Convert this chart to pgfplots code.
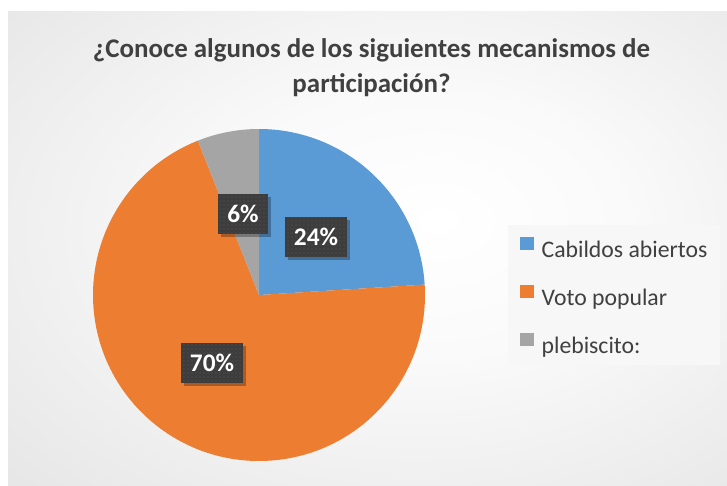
\documentclass[border=0pt]{standalone}
\usepackage{fontspec}
\setmainfont{Carlito}
\usepackage{pgfplots}
\pgfplotsset{compat=1.18}
\usepackage{pgfplotstable}
\usetikzlibrary{shadows,patterns}

\definecolor{pieblue}{HTML}{5B9BD5}
\definecolor{pieorange}{HTML}{ED7D31}
\definecolor{piegray}{HTML}{A5A5A5}
\definecolor{txtgray}{HTML}{404040}
\definecolor{labbg}{HTML}{3D3D3D}
\definecolor{labdot}{HTML}{5A5A5A}

\pgfdeclareradialshading{bgshade}{\pgfpoint{5bp}{3bp}}{%
  color(0bp)=(white); color(14bp)=(white!98!black); color(74bp)=(black!21)}

\pgfplotstableread[col sep=comma]{
label,value
Cabildos abiertos,24
Voto popular,70
plebiscito:,6
}\piedata

\pgfplotstablegetelem{0}{value}\of\piedata\edef\vA{\pgfplotsretval}
\pgfplotstablegetelem{1}{value}\of\piedata\edef\vB{\pgfplotsretval}
\pgfplotstablegetelem{2}{value}\of\piedata\edef\vC{\pgfplotsretval}
\pgfmathsetmacro\aA{90}
\pgfmathsetmacro\aB{\aA-3.6*\vA}
\pgfmathsetmacro\aC{\aB-3.6*\vB}
\pgfmathsetmacro\aD{\aC-3.6*\vC}
\def\R{124.5pt}

\tikzset{
  lab/.style={fill=labbg, text=white, font=\fontsize{19}{22}\selectfont\bfseries,
    minimum height=30pt, inner xsep=7pt, inner ysep=0pt,
    drop shadow={shadow xshift=2.2pt, shadow yshift=-2.2pt, fill=black, opacity=0.28},
    postaction={pattern=dots, pattern color=labdot}},
}

\begin{document}
\begin{tikzpicture}
\begin{axis}[
  scale only axis, width=545.25pt, height=363.75pt,
  xmin=0, xmax=727, ymin=0, ymax=485, y dir=reverse,
  hide axis, clip=false,
  legend style={at={(axis cs:508,225)}, anchor=north west, fill=black!3, draw=none,
    inner xsep=9pt, inner ysep=8.5pt, row sep=20pt,
    font=\fontsize{17.8}{21}\selectfont, text=txtgray,
    nodes={inner sep=0pt, text height=12pt, text depth=0pt},
    /tikz/every odd column/.append style={column sep=6pt}},
  legend cell align=left,
  legend image code/.code={\fill[#1, draw=none] (0pt,0pt) rectangle (10pt,10pt);},
]
\fill[white] (axis cs:0,0) rectangle (axis cs:727,485);
\shade[shading=bgshade] (axis cs:8,12) rectangle (axis cs:727,485);

\fill[pieblue] (axis cs:259,295) -- ++(\aA:\R) arc[start angle=\aA, end angle=\aB, radius=\R] -- cycle;
\fill[pieorange] (axis cs:259,295) -- ++(\aB:\R) arc[start angle=\aB, end angle=\aC, radius=\R] -- cycle;
\fill[piegray] (axis cs:259,295) -- ++(\aC:\R) arc[start angle=\aC, end angle=\aD, radius=\R] -- cycle;

\addlegendimage{fill=pieblue}
\addlegendentry{Cabildos abiertos}
\addlegendimage{fill=pieorange}
\addlegendentry{Voto popular}
\addlegendimage{fill=piegray}
\addlegendentry{plebiscito:}

\node[lab] at (axis cs:316,237) {\vA\%};
\node[lab] at (axis cs:212,363) {\vB\%};
\node[lab] at (axis cs:243,214) {\vC\%};

\node[align=center, text=txtgray, font=\fontsize{20.2}{26}\selectfont\bfseries]
  at (axis cs:371.5,68) {¿Conoce algunos de los siguientes mecanismos de\\participación?};
\end{axis}
\end{tikzpicture}
\end{document}
